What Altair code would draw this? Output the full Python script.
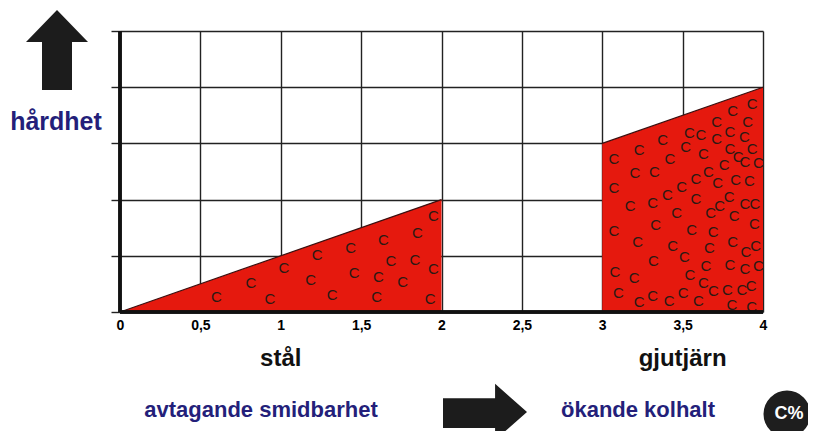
import altair as alt
import pandas as pd

# --- data -------------------------------------------------------------
x_ticks = [0, 0.5, 1, 1.5, 2, 2.5, 3, 3.5, 4]
y_ticks = [0, 1, 2, 3, 4, 5]

steel_x = [0, 2]
steel_y = [0, 2]
cast_x = [3, 4]
cast_y = [3, 4]

steel_c_x = [0.60, 0.815, 0.933, 1.02, 1.186, 1.227, 1.32, 1.435, 1.456, 1.597,
             1.607, 1.638, 1.686, 1.758, 1.85, 1.835, 1.95, 1.95, 1.93]
steel_c_y = [0.27, 0.51, 0.24, 0.78, 0.57, 1.01, 0.30, 1.13, 0.69, 0.27,
             0.62, 1.28, 0.90, 0.54, 1.40, 0.93, 1.70, 0.76, 0.24]

cast_c_x = [3.933, 3.811, 3.905, 3.712, 3.542, 3.614, 3.712, 3.795, 3.884, 3.376,
            3.230, 3.519, 3.629, 3.795, 3.933, 3.846, 3.888, 3.971, 3.759, 3.073,
            3.421, 3.204, 3.324, 3.660, 3.583, 3.718, 3.830, 3.915, 3.073, 3.494,
            3.405, 3.790, 3.583, 3.173, 3.314, 3.731, 3.888, 3.950, 3.463, 3.674,
            3.821, 3.073, 3.332, 3.556, 3.690, 3.946, 3.220, 3.438, 3.666, 3.811,
            3.894, 3.955, 3.511, 3.318, 3.079, 3.199, 3.645, 3.795, 3.888, 3.971,
            3.546, 3.629, 3.692, 3.779, 3.869, 3.926, 3.100, 3.230, 3.314, 3.417,
            3.504, 3.598, 3.806, 3.930]
cast_c_y = [3.70, 3.58, 3.38, 3.38, 3.18, 3.15, 3.07, 3.20, 3.11, 3.06,
            2.88, 2.93, 2.81, 2.90, 2.90, 2.75, 2.67, 2.65, 2.62, 2.72,
            2.72, 2.48, 2.50, 2.50, 2.37, 2.29, 2.34, 2.33, 2.20, 2.22,
            2.08, 2.04, 2.01, 1.89, 1.94, 1.89, 1.92, 1.92, 1.76, 1.76,
            1.70, 1.45, 1.55, 1.46, 1.43, 1.57, 1.25, 1.18, 1.13, 1.24,
            1.07, 1.18, 0.98, 0.90, 0.72, 0.60, 0.81, 0.84, 0.77, 0.82,
            0.66, 0.51, 0.38, 0.40, 0.39, 0.46, 0.33, 0.18, 0.28, 0.20,
            0.33, 0.20, 0.12, 0.09]

steel_label = "stål"
cast_label = "gjutjärn"
y_title = "hårdhet"
left_caption = "avtagande smidbarhet"
right_caption = "ökande kolhalt"
badge = "C%"

# --- tables -----------------------------------------------------------
poly = pd.DataFrame({
    "x": steel_x + cast_x,
    "y": steel_y + cast_y,
    "grp": ["steel"] * len(steel_x) + ["cast"] * len(cast_x),
})
cs = pd.DataFrame({"x": steel_c_x + cast_c_x, "y": steel_c_y + cast_c_y})

FONT = "Liberation Sans"
NAVY = "#241f7a"
RED = "#e5190e"

xs = alt.Scale(domain=[0, 4], nice=False, zero=False)
ys = alt.Scale(domain=[0, 5], nice=False)

x_axis = alt.Axis(values=x_ticks, grid=True, gridColor="#222222", gridWidth=1.4,
                  domain=False, ticks=False, labelPadding=6, labelFlush=False,
                  labelFont=FONT, labelFontSize=14, labelFontWeight="bold",
                  labelColor="#000000", title=None,
                  labelExpr="replace(format(datum.value, '~g'), '.', ',')")
y_axis = alt.Axis(values=y_ticks, grid=True, gridColor="#222222", gridWidth=1.4,
                  domain=False, ticks=True, tickSize=9, tickColor="#222222",
                  tickWidth=1.4, labels=False, title=None)

base_grid = alt.Chart(poly).mark_point(opacity=0).encode(
    x=alt.X("x:Q", scale=xs, axis=x_axis),
    y=alt.Y("y:Q", scale=ys, axis=y_axis),
)

areas = alt.Chart(poly).mark_area(
    color=RED, opacity=1, line={"color": "#3a1010", "strokeWidth": 1.2}
).encode(
    x=alt.X("x:Q", scale=xs),
    y=alt.Y("y:Q", scale=ys, stack=None),
    detail="grp:N",
)

c_text = alt.Chart(cs).mark_text(
    text="C", font=FONT, fontSize=15, color="#2a1a14"
).encode(
    x=alt.X("x:Q", scale=xs),
    y=alt.Y("y:Q", scale=ys),
)

axis_left = alt.Chart(poly).mark_rule(color="#111111", strokeWidth=3).encode(
    x=alt.datum(0)
)
axis_bottom = alt.Chart(poly).mark_rule(color="#111111", strokeWidth=3).encode(
    y=alt.datum(0)
)

lbl = pd.DataFrame({"t": [steel_label, cast_label], "x": [1.0, 3.5]})
group_labels = alt.Chart(lbl).mark_text(
    font=FONT, fontSize=24, fontWeight="bold", color="#111111", baseline="alphabetic"
).encode(
    x=alt.X("x:Q", scale=xs),
    y=alt.value(335),
    text="t:N",
)

def txt(t, x, y, color=NAVY, size=22, baseline="alphabetic"):
    return alt.Chart(pd.DataFrame({"t": [t]})).mark_text(
        font=FONT, fontSize=size, fontWeight="bold", color=color, baseline=baseline
    ).encode(x=alt.value(x), y=alt.value(y), text="t:N")

hard = txt(y_title, -64, 99, size=25)
cap_l = txt(left_caption, 141, 386)
cap_r = txt(right_caption, 518, 386)

up_arrow = alt.Chart(pd.DataFrame({"a": [1]})).mark_point(
    shape="M0,-1 L0.775,-0.2 L0.375,-0.2 L0.375,1 L-0.375,1 L-0.375,-0.2 L-0.775,-0.2 Z",
    filled=True, color="#1c1c1c", opacity=1, size=6400, strokeWidth=0
).encode(x=alt.value(-63), y=alt.value(19))

right_arrow = alt.Chart(pd.DataFrame({"a": [1]})).mark_point(
    shape="M-1,-0.33 L0.24,-0.33 L0.24,-0.67 L1,0 L0.24,0.67 L0.24,0.38 L-1,0.38 Z",
    filled=True, color="#1c1c1c", opacity=1, size=7056, strokeWidth=0
).encode(x=alt.value(365), y=alt.value(381))

circle = alt.Chart(pd.DataFrame({"a": [1]})).mark_point(
    shape="circle", filled=True, color="#1e1e1e", opacity=1, size=2209, strokeWidth=0
).encode(x=alt.value(667), y=alt.value(383))

badge_txt = txt(badge, 669, 383, color="#ffffff", size=18, baseline="middle")

chart = alt.layer(
    base_grid, areas, c_text, axis_left, axis_bottom, group_labels,
    hard, cap_l, cap_r, up_arrow, right_arrow, circle, badge_txt
).properties(
    width=643, height=281,
    autosize=alt.AutoSizeParams(type="none"),
    padding={"left": 112, "top": 23, "right": 45, "bottom": 119},
    background="#ffffff",
).configure_view(strokeWidth=0)

chart.save("out.html", embed_options={"renderer": "svg", "actions": False})
